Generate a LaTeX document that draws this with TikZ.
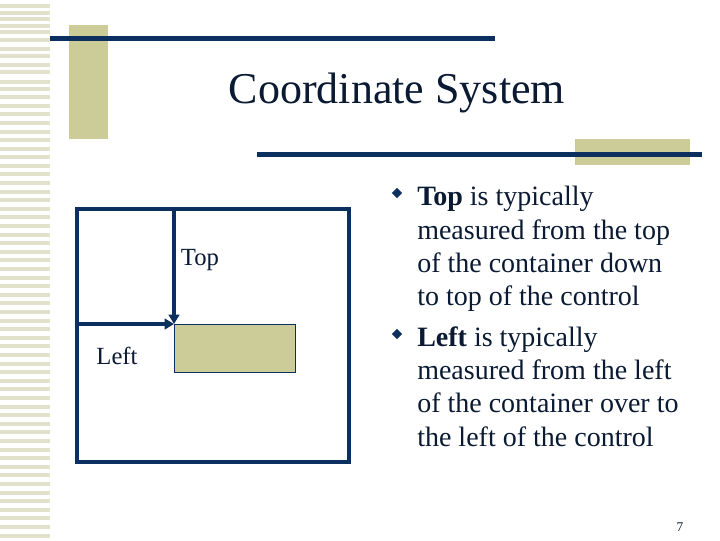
\documentclass[tikz,border=0pt]{standalone}
\usepackage{fontspec}
\setmainfont{Liberation Serif}
\usetikzlibrary{arrows.meta,shapes.geometric}
\definecolor{navy}{HTML}{0B2F5E}
\definecolor{khaki}{HTML}{CCCC99}
\definecolor{stripe}{HTML}{E2E2CC}
\definecolor{ink}{HTML}{0A1A33}
\tikzset{
  bar/.style={fill=navy,draw=none},
  block/.style={fill=khaki,draw=none},
  lbl/.style={font=\fontsize{18.5}{22}\selectfont,text=ink,inner sep=0},
  body/.style={font=\fontsize{21}{25}\selectfont,text=ink,anchor=base west,inner sep=0},
  bul/.style={diamond,fill=navy,inner sep=0,minimum size=8pt},
  arr/.style={navy,line width=3pt,-{Triangle[length=7pt,width=8pt]}}
}
\begin{document}
\begin{tikzpicture}[x=0.75pt,y=-0.75pt]
\useasboundingbox (0,0) rectangle (720,540);
\fill[white] (0,0) rectangle (720,540);
\foreach \y in {4,11,17,24,30,38,47,54,63,70,80,87,95,104,112,121,130,138,147,155,164,172,181,190,198,207,215,224,233,241,250,258,267,276,284,293,301,310,319,327,336,344,353,362,370,379,387,396,405,413,422,430,439,448,456,465,473,482,491,499,508,516,525,534}
  \fill[stripe] (0,\y) rectangle (50,\y+4);
\fill[block] (69,25) rectangle (108,139);
\fill[bar] (50,36) rectangle (495,41);
\fill[block] (575,139) rectangle (690,165);
\fill[bar] (257,152) rectangle (702,157);
\node[font=\fontsize{33}{40}\selectfont,text=ink] (title) at (397,93) {Coordinate System};
% container
\draw[navy,line width=3pt] (77,209) rectangle (349,462);
\coordinate (tstart) at (174,209);
\coordinate (lstart) at (77,324);
\node[draw=navy,fill=khaki,line width=0.6pt,minimum width=90.75pt,minimum height=36pt,anchor=north west,inner sep=0] (ctrl) at (174,324) {};
\draw[arr] (tstart) -- (ctrl.north west);
\draw[arr] (lstart) -- (ctrl.north west);
\node[lbl] (top) at (200,260) {Top};
\node[lbl] (left) at (117,356) {Left};
% bullets
\node[bul] (b1) at (397,193) {};
\node[body] (t1) at (417,205) {\textbf{Top} is typically};
\node[body] (t2) at (417,239) {measured from the top};
\node[body] (t3) at (417,272) {of the container down};
\node[body] (t4) at (417,305) {to top of the control};
\node[bul] (b2) at (397,334) {};
\node[body] (t5) at (417,346) {\textbf{Left} is typically};
\node[body] (t6) at (417,379) {measured from the left};
\node[body] (t7) at (417,412) {of the container over to};
\node[body] (t8) at (417,446) {the left of the control};
\node[font=\fontsize{10}{12}\selectfont,text=ink] (pg) at (680,527) {7};
\end{tikzpicture}
\end{document}
